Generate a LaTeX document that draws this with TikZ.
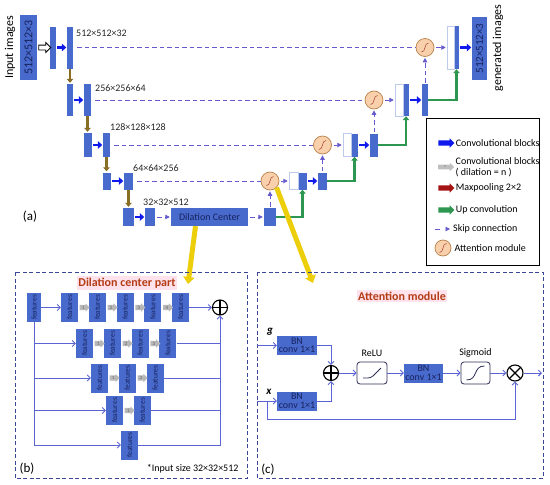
\documentclass[tikz,border=0pt]{standalone}
\usepackage{fontspec}
\setmainfont{Carlito}
\usepackage{tikz}
\usetikzlibrary{arrows.meta, positioning, calc, shapes.arrows}

\definecolor{blkblue}{RGB}{72,106,204}
\definecolor{txtblue}{RGB}{25,35,95}
\definecolor{convblue}{RGB}{15,25,235}
\definecolor{poolbrown}{RGB}{135,110,35}
\definecolor{poolred}{RGB}{165,20,20}
\definecolor{upgreen}{RGB}{45,150,80}
\definecolor{skipblue}{RGB}{100,90,205}
\definecolor{attfill}{RGB}{248,208,172}
\definecolor{attdraw}{RGB}{185,130,75}
\definecolor{attcurve}{RGB}{165,60,40}
\definecolor{linkblue}{RGB}{90,100,210}
\definecolor{titlered}{RGB}{180,60,20}
\definecolor{titlebg}{RGB}{255,226,236}
\definecolor{hiyellow}{RGB}{236,206,10}
\definecolor{panelblue}{RGB}{60,70,150}
\definecolor{iconline}{RGB}{45,45,85}

\tikzset{
  blk/.style={fill=blkblue, inner sep=0pt, text=txtblue},
  wblk/.style={draw=blkblue!35, fill=white, line width=0.5pt, inner sep=0pt},
  att/.style={circle, fill=attfill, draw=attdraw, line width=0.7pt,
    minimum size=18pt, inner sep=0pt,
    path picture={\draw[attcurve, line width=0.5pt, shift={(path picture bounding box.center)}]
      (-3.5pt,-4.5pt) .. controls (1pt,-5pt) and (-1pt,5pt) .. (3.5pt,4.5pt);}},
  conv/.style={convblue, line width=2.6pt, shorten <=1pt, shorten >=0.5pt,
    -{Triangle[length=4.5pt, width=7.5pt]}},
  pool/.style={poolbrown, line width=2.4pt, shorten >=1pt, -{Triangle[length=4pt, width=6.5pt]}},
  upconv/.style={upgreen, line width=2.6pt, -{Triangle[length=4pt, width=6.5pt]}},
  skip/.style={skipblue, line width=0.9pt, dash pattern=on 4.5pt off 3pt},
  skiparr/.style={skip, -{Triangle[length=4.5pt, width=4.5pt]}},
  hilite/.style={hiyellow, line width=5pt, -{Triangle[length=7pt, width=11pt]}},
  sizelab/.style={font=\fontsize{10}{12}\selectfont, text=black!85, inner sep=0pt},
  feat/.style={blk, minimum width=17pt, minimum height=29pt, font=\fontsize{7.5}{7.5}\selectfont},
  dil/.style={single arrow, fill=black!28, inner sep=0.8pt, minimum height=10pt,
    single arrow head extend=1.5pt, font=\fontsize{5}{5}\selectfont, text=black!60},
  link/.style={linkblue, line width=0.9pt, -{Straight Barb[length=3pt, width=6pt]}},
  linkline/.style={linkblue, line width=0.9pt},
  oplus/.style={circle, draw, line width=1.1pt, minimum size=15pt, inner sep=0pt,
    path picture={\draw[line width=1.1pt] (path picture bounding box.north) -- (path picture bounding box.south)
      (path picture bounding box.west) -- (path picture bounding box.east);}},
  otimes/.style={circle, draw, line width=1.1pt, minimum size=16pt, inner sep=0pt,
    path picture={\draw[line width=1.1pt] (path picture bounding box.north west) -- (path picture bounding box.south east)
      (path picture bounding box.north east) -- (path picture bounding box.south west);}},
  bnbox/.style={blk, minimum width=40pt, minimum height=19pt, align=center,
    font=\fontsize{10}{8.5}\selectfont},
  actbox/.style={draw=iconline, rounded corners=3pt, line width=0.8pt, fill=white,
    minimum width=30pt, minimum height=22pt, inner sep=0pt},
  paneltitle/.style={font=\bfseries\fontsize{12}{14}\selectfont, text=titlered, fill=titlebg, inner sep=1.5pt},
  panel/.style={panelblue, line width=1pt, dash pattern=on 4pt off 2.5pt},
  legarr/.style={single arrow, minimum height=16pt, inner sep=2.5pt, single arrow head extend=2pt},
  legtxt/.style={font=\fontsize{10}{11}\selectfont, inner sep=1pt, align=left},
  tag/.style={font=\fontsize{13}{15}\selectfont}
}

\begin{document}
\begin{tikzpicture}[x=1pt, y=-1pt, >=Stealth]
\useasboundingbox (0,0) rectangle (550,485);

% (a) network
\foreach \n/\x/\y/\w/\h in {e1a/53/47.5/6/42, e1b/70/47.5/6/42,
    e2a/70/100/6/32, e2b/87.5/100/7/32, e3a/88/145/8/24, e3b/106.5/145/7/24,
    e4a/107/181/8/17, e4b/128.5/181/9/17, e5a/128.5/217/11/18, e5b/150/217/10/18,
    d5/270/217/12/18, d4a/302.5/181/9/17, d4b/322.5/181/9/17,
    d3a/354.5/145/7/23, d3b/374/145/8/23, d2a/406/100/6/32, d2b/425/100/6/32,
    d1a/456.5/47.5/5/43}
  \node[blk, minimum width=\w pt, minimum height=\h pt] (\n) at (\x,\y) {};
\foreach \n/\x/\y/\w/\h in {w1/450.5/47.5/7/43, w2/399/100/8/32, w3/347/145/8/23, w4/293.5/181/9/17}
  \node[wblk, minimum width=\w pt, minimum height=\h pt] (\n) at (\x,\y) {};

\node[blk, minimum width=17pt, minimum height=65pt, font=\fontsize{12}{12}\selectfont] (in) at (28.5,47.5) {\rotatebox{90}{512×512×3}};
\node[blk, minimum width=15pt, minimum height=63pt, font=\fontsize{11}{11}\selectfont] (out) at (479.5,48.5) {\rotatebox{90}{512×512×3}};
\node[blk, minimum width=77pt, minimum height=18pt, font=\fontsize{10}{10}\selectfont] (dc) at (209.5,217) {Dilation Center};

\foreach \n/\x/\y in {att1/425/47.5, att2/374/100, att3/322.5/145, att4/270/181}
  \node[att] (\n) at (\x,\y) {};

\node[single arrow, draw=black, fill=white, line width=0.8pt, inner sep=2pt,
  minimum height=12pt, single arrow head extend=2.5pt] (inarr) at ($(in.east)!0.5!(e1a.west)$) {};

\node[sizelab, anchor=west] (s1) at (76,33) {512×512×32};
\node[sizelab, anchor=west] (s2) at (95,88) {256×256×64};
\node[sizelab, anchor=west] (s3) at (110,127) {128×128×128};
\node[sizelab, anchor=west] (s4) at (133,168) {64×64×256};
\node[sizelab, anchor=west] (s5) at (143,202) {32×32×512};

\node[rotate=90, font=\fontsize{12}{12}\selectfont] (inlab) at (10,47.5) {Input images};
\node[rotate=90, font=\fontsize{12}{12}\selectfont] (outlab) at (498,48) {generated images};
\node[tag] (taga) at (30,217) {(a)};

\foreach \a/\b in {e1a/e1b, e2a/e2b, e3a/e3b, e4a/e4b, e5a/e5b, d4a/d4b, d3a/d3b, d2a/d2b, d1a/out}
  \draw[conv] (\a.east) -- (\a.east -| \b.west);
\foreach \a/\b in {e1b/e2a, e2b/e3a, e3b/e4a, e4b/e5a}
  \draw[pool] (\a.south) -- (\a.south |- \b.north);
\foreach \a/\b in {e1b/att1, e2b/att2, e3b/att3, e4b/att4}
  \draw[skip, shorten <=4pt] (\a.east) -- (\b.west);
\foreach \a/\b in {att1/w1, att2/w2, att3/w3, att4/w4, e5b/dc, dc/d5}
  \draw[skiparr, shorten <=2pt, shorten >=1pt] (\a.east) -- (\a.east -| \b.west);
\foreach \a/\b in {d2b/att1, d3b/att2, d4b/att3, d5/att4}
  \draw[skiparr, shorten <=1pt, shorten >=1pt] (\a.north) -- (\b.south);
\foreach \a/\b in {d5/d4a, d4b/d3a, d3b/d2a, d2b/d1a}
  \draw[upconv] (\a.east) -| (\b.south);

% legend
\draw[black, line width=0.9pt] (426,118) rectangle (539,265);
\node[legarr, fill=convblue] (lg1) at (445,143) {};
\node[legarr, fill=black!25, text=black!50, inner sep=1.2pt, font=\fontsize{4}{4}\selectfont] (lg2) at (445,167) {n};
\node[legarr, fill=poolred] (lg3) at (445,188) {};
\node[legarr, fill=upgreen] (lg4) at (445,210) {};
\coordinate (lg5a) at (435,229);
\coordinate (lg5b) at (450,229);
\draw[skiparr, dash pattern=on 5pt off 10pt] (lg5a) -- (lg5b);
\node[att, minimum size=16pt] (lg6) at (443,248) {};
\node[legtxt, right=0pt of lg1] (lt1) {Convolutional blocks};
\node[legtxt, right=0pt of lg2] (lt2) {Convolutional blocks\\( dilation = n )};
\node[legtxt, right=0pt of lg3] (lt3) {Maxpooling 2×2};
\node[legtxt, right=0pt of lg4] (lt4) {Up convolution};
\node[legtxt, right=2pt of lg5b] (lt5) {Skip connection};
\node[legtxt, right=2pt of lg6] (lt6) {Attention module};

% zoom arrows
\coordinate (btip) at (188,284);
\coordinate (ctip) at (313,283);
\draw[hilite] ([xshift=-14pt]dc.south) -- (btip);
\draw[hilite] (att4.south east) -- (ctip);

% (b) dilation center part
\draw[panel] (15,272) rectangle (247,478);
\node[paneltitle] (titleb) at (127,283) {Dilation center part};
\node[feat, minimum width=14pt] (f0) at (34,307.5) {\rotatebox{90}{features}};
\foreach \r/\n/\y in {1/5/307.5, 2/4/343.5, 3/3/378, 4/2/410.5, 5/1/445}
  \foreach \k in {1,...,\n}
    \node[feat] (f\r\k) at ({69.5+15*(\r-1)+27.8*(\k-1)},\y) {\rotatebox{90}{features}};
\foreach \r/\k/\j in {1/1/2, 1/2/3, 1/3/4, 1/4/5, 2/1/2, 2/2/3, 2/3/4, 3/1/2, 3/2/3, 4/1/2}
  \node[dil] (g\r\k) at ($(f\r\k.east)!0.5!(f\r\j.west)$) {\k};
\node[oplus] (sumb) at (220,307.5) {};
\draw[link] (f0) -- (f11);
\draw[link] (f15) -- (sumb);
\draw[linkline] (f0.south) -- (f0.south |- f51.west);
\foreach \r in {2,3,4,5}
  \draw[link] (f0.south |- f\r1.west) -- (f\r1.west);
\foreach \r/\n in {2/4, 3/3, 4/2}
  \draw[linkline] (f\r\n.east) -- (f\r\n.east -| sumb.south);
\draw[link] (f51.east) -| (sumb.south);
\node[tag] (tagb) at (27,469) {(b)};
\node[anchor=east, font=\fontsize{10}{12}\selectfont] (note) at (242,469) {*Input size 32×32×512};

% (c) attention module
\draw[panel] (257,272) rectangle (543,478);
\node[paneltitle] (titlec) at (402,296) {Attention module};
\node[bnbox] (bng) at (297,345.5) {BN\\conv 1×1};
\node[bnbox] (bnx) at (297,401) {BN\\conv 1×1};
\node[oplus] (sumc) at (331,373) {};
\node[actbox, path picture={\draw[iconline, line width=0.8pt, shift={(path picture bounding box.center)}]
  (-9pt,-5pt) -- (-1pt,-5pt) -- (9pt,5pt);}] (relu) at (372,373) {};
\node[bnbox, minimum width=39pt] (bnc) at (423.5,373) {BN\\conv 1×1};
\node[actbox, minimum width=29pt, path picture={\draw[iconline, line width=0.8pt, shift={(path picture bounding box.center)}]
  (-9pt,-7pt) .. controls (3pt,-7pt) and (-3pt,7pt) .. (9pt,7pt);}] (sig) at (475.5,373) {};
\node[otimes] (prodc) at (515,373) {};
\node[above=1pt of relu, font=\fontsize{10}{12}\selectfont] (relulab) {ReLU};
\node[above=1pt of sig, font=\fontsize{10}{12}\selectfont] (siglab) {Sigmoid};
\node[font=\bfseries\itshape\fontsize{11}{12}\selectfont] (glab) at (270,332) {g};
\node[font=\bfseries\itshape\fontsize{11}{12}\selectfont] (xlab) at (269,392) {x};
\coordinate (gin) at (257,345.5);
\coordinate (xin) at (257,401);
\coordinate (xsplit) at (267,401);
\coordinate (cout) at (542,373);
\draw[link] (gin) -- (bng);
\draw[link] (xin) -- (bnx);
\draw[link] (bng.east) -| (sumc.north);
\draw[link] (bnx.east) -| (sumc.south);
\foreach \a/\b in {sumc/relu, relu/bnc, bnc/sig, sig/prodc, prodc/cout}
  \draw[link] (\a) -- (\b);
\draw[link] (xsplit) -- ++(0,18) -| (prodc.south);
\node[tag] (tagc) at (268,470) {(c)};
\end{tikzpicture}
\end{document}
